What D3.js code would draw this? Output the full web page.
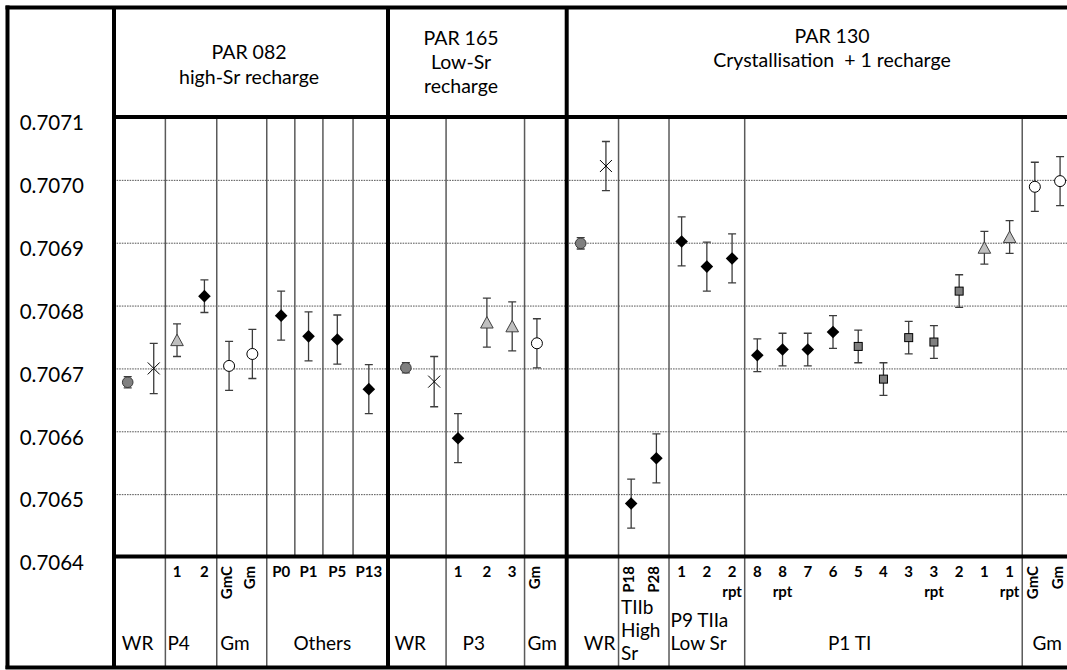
<!DOCTYPE html>
<html><head><meta charset="utf-8">
<script src="https://cdn.jsdelivr.net/npm/d3@7"></script>
<style>
html,body{margin:0;padding:0;background:#fff;}
svg{display:block;font-family:Lato,"Open Sans",sans-serif;}
text{white-space:pre;}
</style>
</head><body>
<svg id="chart" width="1067" height="670"></svg>
<script>
// ---------------- DATA ----------------
const yTicks = [0.7064, 0.7065, 0.7066, 0.7067, 0.7068, 0.7069, 0.7070, 0.7071];
const yTickLabels = ["0.7064", "0.7065", "0.7066", "0.7067", "0.7068", "0.7069", "0.7070", "0.7071"];

// PAR 082
const titles082 = ["PAR 082", "high-Sr recharge"];
const xPos082 = [0.5, 1.45, 2.3, 3.3, 4.2, 5.05, 6.1, 7.1, 8.15, 9.3];
const values082 = [0.706678, 0.706700, 0.706745, 0.706815, 0.706704, 0.706723, 0.706784, 0.706751, 0.706746, 0.706667];
const errors082 = [0.000009, 0.000040, 0.000026, 0.000026, 0.000039, 0.000039, 0.000039, 0.000039, 0.000039, 0.000039];
const markers082 = ["grayCircle", "cross", "triangle", "diamond", "openCircle", "openCircle", "diamond", "diamond", "diamond", "diamond"];
const top082 = ["", "", "1", "2", "", "", "P0", "P1", "P5", "P13"];
const rot082 = ["", "", "", "", "GmC", "Gm", "", "", "", ""];
const rpt082 = ["", "", "", "", "", "", "", "", "", ""];
const groups082 = [["WR", 0, 1], ["P4", 2, 3], ["Gm", 4, 5], ["Others", 6, 9]];
const subDiv082 = [6, 7, 8];

// PAR 165
const titles165 = ["PAR 165", "Low-Sr", "recharge"];
const xPos165 = [0.6, 1.55, 2.35, 3.32, 4.17, 5.0];
const values165 = [0.706701, 0.706679, 0.706589, 0.706773, 0.706767, 0.706740];
const errors165 = [0.000008, 0.000040, 0.000039, 0.000039, 0.000039, 0.000039];
const markers165 = ["grayCircle", "cross", "diamond", "triangle", "triangle", "openCircle"];
const top165 = ["", "", "1", "2", "3", ""];
const rot165 = ["", "", "", "", "", "Gm"];
const rpt165 = ["", "", "", "", "", ""];
const groups165 = [["WR", 0, 1], ["P3", 2, 4], ["Gm", 5, 5]];
const subDiv165 = [];

// PAR 130
const titles130 = ["PAR 130", "Crystallisation  + 1 recharge"];
const xPos130 = [0, 1, 2, 3, 4, 5, 6, 7, 8, 9, 10, 11, 12, 13, 14, 15, 16, 17, 18, 19];
const values130 = [0.706899, 0.707022, 0.706485, 0.706557, 0.706902, 0.706862, 0.706875, 0.706721, 0.706730, 0.706730,
                   0.706758, 0.706735, 0.706683, 0.706749, 0.706742, 0.706823, 0.706892, 0.706909, 0.706989, 0.706998];
const errors130 = [0.000009, 0.000039, 0.000039, 0.000039, 0.000039, 0.000039, 0.000039, 0.000026, 0.000026, 0.000026,
                   0.000026, 0.000026, 0.000026, 0.000026, 0.000026, 0.000026, 0.000026, 0.000026, 0.000039, 0.000039];
const markers130 = ["grayCircle", "cross", "diamond", "diamond", "diamond", "diamond", "diamond", "diamond", "diamond", "diamond",
                    "diamond", "square", "square", "square", "square", "square", "triangle", "triangle", "openCircle", "openCircle"];
const top130 = ["", "", "", "", "1", "2", "2", "8", "8", "7", "6", "5", "4", "3", "3", "2", "1", "1", "", ""];
const rot130 = ["", "", "P18", "P28", "", "", "", "", "", "", "", "", "", "", "", "", "", "", "GmC", "Gm"];
const rpt130 = ["", "", "", "", "", "", "rpt", "", "rpt", "", "", "", "", "", "rpt", "", "", "rpt", "", ""];
const groups130 = [["WR", 0, 1], ["TIIb\nHigh\nSr", 2, 3], ["P9 TIIa\nLow Sr", 4, 6], ["P1 TI", 7, 17], ["Gm", 18, 19]];
const subDiv130 = [];

// ---------------- LAYOUT ----------------
const W = 1067, H = 670;
const plotTop = 117, plotBottom = 557;
const y = d3.scaleLinear().domain([0.7064, 0.7071]).range([plotBottom, plotTop]);

const panels = [
  {titles: titles082, titleX: 249, titleY: [59, 84], xs: xPos082, v: values082, e: errors082, m: markers082,
   top: top082, rot: rot082, rpt: rpt082, groups: groups082, sub: subDiv082,
   x: d3.scaleLinear().domain([0, 10]).range([114, 388]), left: 114, right: 388,
   labelPad: [0.15, 0.04, 0.07, 0.22]},
  {titles: titles165, titleX: 461, titleY: [45, 69, 93], xs: xPos165, v: values165, e: errors165, m: markers165,
   top: top165, rot: rot165, rpt: rpt165, groups: groups165, sub: subDiv165,
   x: d3.scaleLinear().domain([0, 6]).range([388, 566.7]), left: 388, right: 566.7,
   labelPad: [0.11, 0.21, 0.07]},
  {titles: titles130, titleX: 832, titleY: [43, 67], xs: xPos130, v: values130, e: errors130, m: markers130,
   top: top130, rot: rot130, rpt: rpt130, groups: groups130, sub: subDiv130,
   x: d3.scaleLinear().domain([-0.555, 19.445]).range([566.7, 1071.3]), left: 566.7, right: W,
   labelPad: [0.33, 0.05, 0.02, 0.30, 0.23]}
];

const svg = d3.select("#chart");

// gridlines (interior ticks)
const gridAxis = d3.axisRight(y).tickValues(yTicks.slice(1, -1)).tickSize(W - 114).tickFormat("");
const grid = svg.append("g").attr("transform", "translate(114,0)").call(gridAxis);
grid.select(".domain").remove();
grid.selectAll(".tick line").attr("stroke", "#555").attr("stroke-width", 1).attr("stroke-dasharray", "1.6,1");

// y tick labels
const yAxis = d3.axisLeft(y).tickValues(yTicks).tickSize(0).tickFormat((d, i) => yTickLabels[i]);
const ya = svg.append("g").attr("transform", "translate(84,0)").call(yAxis);
ya.select(".domain").remove();
ya.selectAll(".tick text").attr("font-family", "Lato").attr("font-size", 20.5).attr("fill", "#000")
  .attr("x", 0).attr("dy", "0.62em").attr("text-anchor", "end");

// separators
panels.forEach(p => {
  const bounds = [];
  for (let gi = 0; gi < p.groups.length - 1; gi++) {
    const a = p.groups[gi][2], b = p.groups[gi + 1][1];
    bounds.push(p.x((p.xs[a] + p.xs[b]) / 2));
  }
  p.bounds = bounds;
  bounds.forEach(bx => {
    svg.append("line").attr("x1", bx).attr("x2", bx).attr("y1", plotTop).attr("y2", 667)
      .attr("stroke", "#5a5a5a").attr("stroke-width", 1.5);
  });
  p.sub.forEach(i => {
    const bx = p.x((p.xs[i] + p.xs[i + 1]) / 2);
    svg.append("line").attr("x1", bx).attr("x2", bx).attr("y1", plotTop).attr("y2", plotBottom)
      .attr("stroke", "#5a5a5a").attr("stroke-width", 1.5);
  });
});

// error bars + markers
function marker(g, type, cx, cy) {
  if (type === "grayCircle") {
    g.append("circle").attr("cx", cx).attr("cy", cy).attr("r", 5.3).attr("fill", "#808080").attr("stroke", "#3a3a3a").attr("stroke-width", 1);
  } else if (type === "openCircle") {
    g.append("circle").attr("cx", cx).attr("cy", cy).attr("r", 5.5).attr("fill", "#fff").attr("stroke", "#000").attr("stroke-width", 1);
  } else if (type === "diamond") {
    const s = 6.3;
    g.append("path").attr("d", `M${cx},${cy - s}L${cx + s},${cy}L${cx},${cy + s}L${cx - s},${cy}Z`).attr("fill", "#000");
  } else if (type === "triangle") {
    g.append("path").attr("d", `M${cx},${cy - 6}L${cx + 6.3},${cy + 5.5}L${cx - 6.3},${cy + 5.5}Z`)
      .attr("fill", "#bfbfbf").attr("stroke", "#404040").attr("stroke-width", 1);
  } else if (type === "square") {
    g.append("rect").attr("x", cx - 4).attr("y", cy - 4).attr("width", 8).attr("height", 8)
      .attr("fill", "#7f7f7f").attr("stroke", "#000").attr("stroke-width", 1);
  } else if (type === "cross") {
    const s = 6;
    g.append("path").attr("d", `M${cx - s},${cy - s}L${cx + s},${cy + s}M${cx - s},${cy + s}L${cx + s},${cy - s}`)
      .attr("stroke", "#000").attr("stroke-width", 1).attr("fill", "none");
  }
}

panels.forEach(p => {
  const g = svg.append("g");
  p.v.forEach((val, i) => {
    const cx = p.x(p.xs[i]);
    const y1 = y(val + p.e[i]), y2 = y(val - p.e[i]);
    g.append("path").attr("d", `M${cx},${y1}V${y2}M${cx - 4},${y1}H${cx + 4}M${cx - 4},${y2}H${cx + 4}`)
      .attr("stroke", "#3c3c3c").attr("stroke-width", 1.3).attr("fill", "none");
  });
  p.v.forEach((val, i) => marker(g, p.m[i], p.x(p.xs[i]), y(val)));

  // sample labels
  p.top.forEach((t, i) => {
    if (!t) return;
    svg.append("text").attr("x", p.x(p.xs[i])).attr("y", 577).attr("text-anchor", "middle")
      .attr("font-weight", "bold").attr("font-size", 15).text(t);
  });
  p.rpt.forEach((t, i) => {
    if (!t) return;
    svg.append("text").attr("x", p.x(p.xs[i])).attr("y", 597).attr("text-anchor", "middle")
      .attr("font-weight", "bold").attr("font-size", 15).text(t);
  });
  p.rot.forEach((t, i) => {
    if (!t) return;
    const cx = p.x(p.xs[i]);
    svg.append("text").attr("transform", `translate(${cx + 3},566) rotate(-90)`).attr("text-anchor", "end")
      .attr("font-weight", "bold").attr("font-size", 15).text(t);
  });

  // group labels
  p.groups.forEach((gr, gi) => {
    const l = gi === 0 ? p.left : p.bounds[gi - 1];
    const r = gi === p.groups.length - 1 ? p.right : p.bounds[gi];
    const lx = l + p.labelPad[gi] * (r - l);
    const lines = gr[0].split("\n");
    const baseY = 650 - (lines.length === 3 ? 36 : (lines.length === 2 ? 23 : 0));
    lines.forEach((ln, k) => {
      svg.append("text").attr("x", lx).attr("y", baseY + k * 23).attr("font-size", 19).text(ln);
    });
  });

  // titles
  p.titles.forEach((t, k) => {
    svg.append("text").attr("x", p.titleX).attr("y", p.titleY[k]).attr("text-anchor", "middle")
      .attr("font-size", 19.5).text(t);
  });
});

// frame lines
const thick = (x1, y1, x2, y2) => svg.append("line").attr("x1", x1).attr("y1", y1).attr("x2", x2).attr("y2", y2)
  .attr("stroke", "#000").attr("stroke-width", 4);
thick(5.5, 7.5, W, 7.5);
thick(7.5, 5.5, 7.5, 669);
thick(5.5, 667.5, W, 667.5);
thick(114, plotTop, W, plotTop);
thick(114, plotBottom - 0.5, W, plotBottom - 0.5);
[114, 388, 566.7].forEach(xv => thick(xv, 7, xv, 668));
</script>
</body></html>
